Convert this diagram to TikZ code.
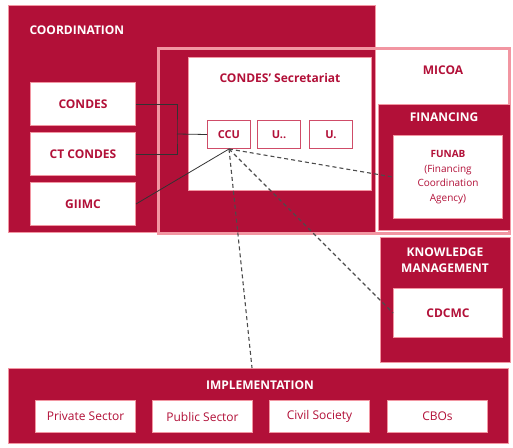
\documentclass[tikz,border=0pt]{standalone}
\usepackage{fontspec}
\setmainfont{Open Sans}
\definecolor{condesred}{RGB}{178,16,56}
\definecolor{edgepink}{RGB}{242,150,162}
\tikzset{
  darkbox/.style={fill=condesred, draw=edgepink, line width=1.2pt, anchor=north west},
  whitebox/.style={fill=white, draw=edgepink, line width=1pt, anchor=north west,
    text=condesred, align=center, font=\fontsize{12}{14}\selectfont\bfseries},
  unitbox/.style={fill=white, draw=condesred!55!edgepink, line width=1pt, anchor=north west,
    text=condesred, font=\fontsize{11}{12}\selectfont\bfseries},
  head/.style={text=white, align=center, font=\fontsize{12}{16}\selectfont\bfseries},
  link/.style={black!80, line width=0.8pt},
  dashlink/.style={black!70, line width=1.1pt, dash pattern=on 4pt off 3pt}
}
\begin{document}
\begin{tikzpicture}[x=1pt,y=-1pt]
    \useasboundingbox (0,0) rectangle (513,447);
    % coordination
    \node[darkbox, minimum width=367pt, minimum height=227pt] (coord) at (8,5) {};
    \node[head, anchor=west] (coordtitle) at (26,30) {COORDINATION};
    \node[whitebox, minimum width=105pt, minimum height=43pt] (condes) at (30,82) {CONDES};
    \node[whitebox, minimum width=105pt, minimum height=43pt] (ctcondes) at (30,132) {CT CONDES};
    \node[whitebox, minimum width=105pt, minimum height=43pt] (giimc) at (30,182) {GIIMC};
    % micoa frame
    \node[draw=edgepink, line width=2.5pt, anchor=north west,
        minimum width=351pt, minimum height=185pt] (micoa) at (157,47) {};
    \node[head, text=condesred] (micoatitle) at (443,70) {MICOA};
    % secretariat
    \node[whitebox, minimum width=183pt, minimum height=133pt] (secr) at (188,57) {};
    \node[head, text=condesred] (secrtitle) at (280,78) {CONDES' Secretariat};
    \foreach \name/\x/\txt in {ccu/207/CCU, una/257/U.., unb/309/U.} {
            \node[unitbox, minimum width=43pt, minimum height=28pt] (\name) at (\x,120) {\txt};
        }
    % financing
    \node[darkbox, minimum width=132pt, minimum height=126pt] (fin) at (378,104) {};
    \node[head] (fintitle) at (444,117) {FINANCING};
    \node[whitebox, minimum width=109pt, minimum height=83pt,
        font=\fontsize{10}{14.5}\selectfont] (funab) at (393,135)
        {\textbf{FUNAB}\\(Financing\\Coordination\\Agency)};
    % knowledge management
    \node[darkbox, minimum width=130pt, minimum height=125pt] (km) at (380,237) {};
    \node[head] (kmtitle) at (445,260) {KNOWLEDGE\\MANAGEMENT};
    \node[whitebox, minimum width=109pt, minimum height=49pt] (cdcmc) at (393,288) {CDCMC};
    % implementation
    \node[darkbox, minimum width=500pt, minimum height=75pt] (impl) at (8,368) {};
    \node[head] (impltitle) at (260,385) {IMPLEMENTATION};
    \foreach \name/\x/\txt in {private/35/Private Sector, public/152/Public Sector,
            civil/269/Civil Society, cbos/387/CBOs} {
            \node[whitebox, font=\fontsize{12}{14}\selectfont,
                minimum width=100pt, minimum height=32pt] (\name) at (\x,400) {\txt};
        }
    \coordinate (impltop) at (252,368);
    % links
    \coordinate (jn) at (177,134);
    \draw[link] (condes.east) -| (jn) |- (ctcondes.east);
    \draw[link] (jn) -- (ccu.west);
    \draw[link] (giimc.east) -- (ccu.south);
    \draw[dashlink] (ccu.south) -- (funab.west);
    \draw[dashlink] (ccu.south) -- (cdcmc.west);
    \draw[dashlink] (ccu.south) -- (impltop);
\end{tikzpicture}
\end{document}
